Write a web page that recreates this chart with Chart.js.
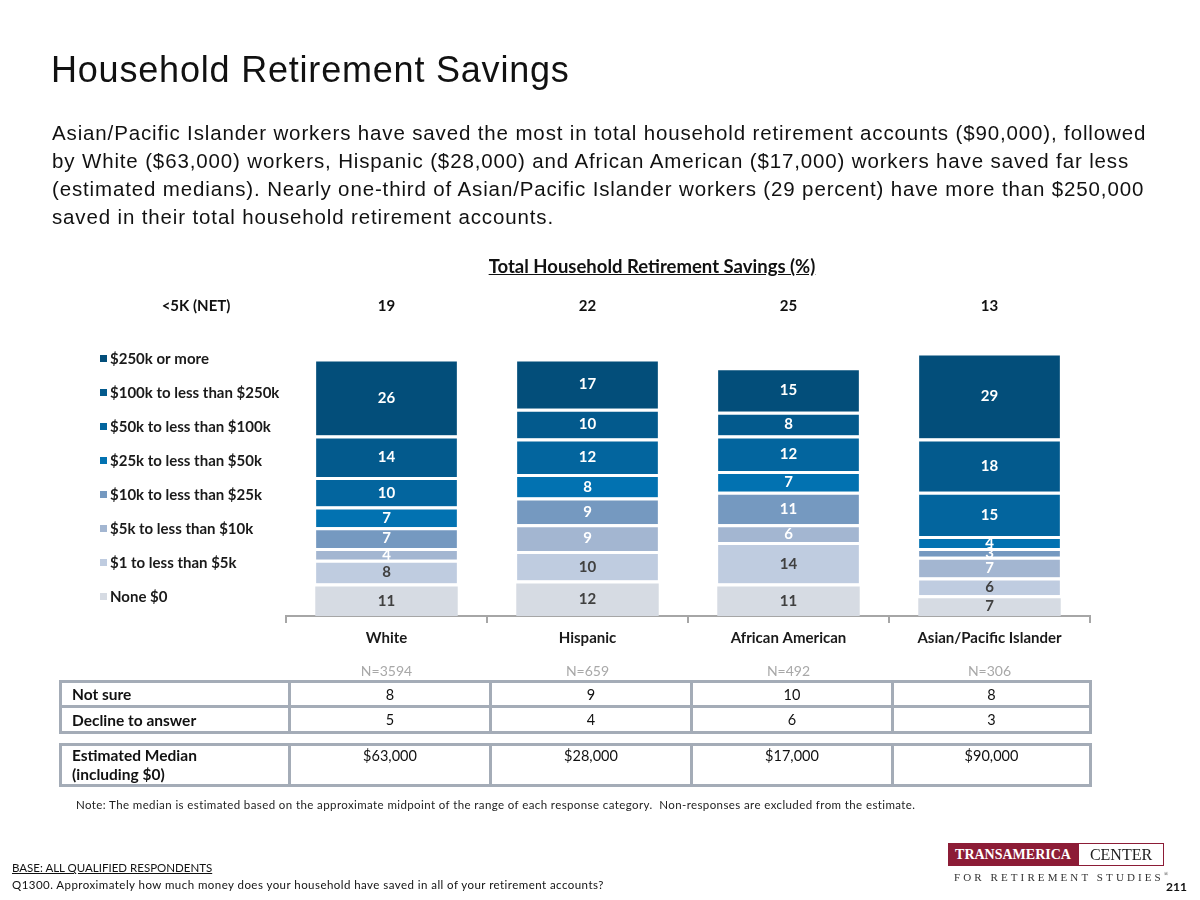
<!DOCTYPE html>
<html>
<head>
<meta charset="utf-8">
<script src="https://cdn.jsdelivr.net/npm/chart.js@4"></script>
<style>
  body { margin: 0; background: #fff; }
  #page { position: relative; width: 1200px; height: 900px; overflow: hidden; font-family: "Liberation Sans", Arial, sans-serif; color: #111; }
  #chart { position: absolute; left: 0; top: 0; }
  .abs { position: absolute; white-space: nowrap; }
  #title { left: 51px; top: 49px; font-size: 36px; letter-spacing: 0.8px; color: #111; }
  #sub { left: 52px; top: 119px; font-size: 20.5px; letter-spacing: 0.86px; line-height: 28px; color: #111; }
  #ctitle { left: 0; width: 1304px; text-align: center; top: 255px; font: bold 18.5px Lato, sans-serif; text-decoration: underline; color: #111; }
  table { position: absolute; border-collapse: collapse; font: 14.5px Lato, sans-serif; color: #111; table-layout: fixed; }
  td { border: 3px solid #a4acb7; padding: 0 6px; text-align: center; }
  td.lab { text-align: left; font-weight: bold; font-size: 15.5px; padding-left: 10px; }
  #note { left: 76px; top: 798px; font: 11.5px Lato, sans-serif; letter-spacing: 0.4px; color: #222; }
  #base { left: 12px; top: 861px; font: 11.5px Lato, sans-serif; letter-spacing: 0; color: #111; text-decoration: underline; }
  #q { left: 12px; top: 878px; font: 11.5px Lato, sans-serif; letter-spacing: 0.45px; color: #111; }
  #logo1 { left: 948px; top: 843px; width: 130px; height: 23px; background: #8c1c36; color: #fff; font: bold 14px "Liberation Serif", serif; line-height: 23px; text-align: center; }
  #logo2 { left: 1078px; top: 843px; width: 84px; height: 21px; border: 1px solid #8c1c36; color: #222; font: 16px "Liberation Serif", serif; line-height: 21px; text-align: center; }
  #logo3 { left: 954px; top: 871px; font: 11px "Liberation Serif", serif; letter-spacing: 3.1px; color: #333; }
  #pnum { left: 1166px; top: 879px; font: bold 12px Lato, sans-serif; color: #111; }
</style>
</head>
<body>
<div id="page">
  <canvas id="chart" width="1200" height="900"></canvas>
  <div id="title" class="abs">Household Retirement Savings</div>
  <div id="sub" class="abs">Asian/Pacific Islander workers have saved the most in total household retirement accounts ($90,000), followed<br>by White ($63,000) workers, Hispanic ($28,000) and African American ($17,000) workers have saved far less<br>(estimated medians). Nearly one-third of Asian/Pacific Islander workers (29 percent) have more than $250,000<br>saved in their total household retirement accounts.</div>
  <div id="ctitle" class="abs">Total Household Retirement Savings (%)</div>
  <table id="t1" style="left:59px; top:680px; width:1030px;"></table>
  <table id="t2" style="left:59px; top:743px; width:1030px;"></table>
  <div id="note" class="abs">Note: The median is estimated based on the approximate midpoint of the range of each response category.&nbsp; Non-responses are excluded from the estimate.</div>
  <div id="base" class="abs">BASE: ALL QUALIFIED RESPONDENTS</div>
  <div id="q" class="abs">Q1300. Approximately how much money does your household have saved in all of your retirement accounts?</div>
  <div id="logo1" class="abs">TRANSAMERICA</div>
  <div id="logo2" class="abs">CENTER</div>
  <div id="logo3" class="abs">FOR RETIREMENT STUDIES<sup style="font-size:6px">®</sup></div>
  <div id="pnum" class="abs">211</div>
</div>
<script>
const groups = ["White", "Hispanic", "African American", "Asian/Pacific Islander"];
const sampleSizes = ["N=3594", "N=659", "N=492", "N=306"];
const bands = ["None $0", "$1 to less than $5k", "$5k to less than $10k", "$10k to less than $25k",
  "$25k to less than $50k", "$50k to less than $100k", "$100k to less than $250k", "$250k or more"];
const bandColors = ["#d6dbe3", "#bfcce0", "#a3b6d1", "#7599c0", "#0272b1", "#03659e", "#035a8d", "#034e7a"];

const noneZero = [11, 12, 11, 7];
const oneTo5k = [8, 10, 14, 6];
const fiveTo10k = [4, 9, 6, 7];
const tenTo25k = [7, 9, 11, 3];
const twentyFiveTo50k = [7, 8, 7, 4];
const fiftyTo100k = [10, 12, 12, 15];
const hundredTo250k = [14, 10, 8, 18];
const over250k = [26, 17, 15, 29];
const under5kNet = [19, 22, 25, 13];

const notSure = [8, 9, 10, 8];
const declined = [5, 4, 6, 3];
const medians = ["$63,000", "$28,000", "$17,000", "$90,000"];

const series = [noneZero, oneTo5k, fiveTo10k, tenTo25k, twentyFiveTo50k, fiftyTo100k, hundredTo250k, over250k];

// table under the chart
const row = (label, vals, h) => `<tr style="height:${h}px"><td class="lab">${label}</td>${vals.map(v => `<td>${v}</td>`).join("")}</tr>`;
const cols = `<colgroup><col style="width:229px"><col style="width:201px"><col style="width:201px"><col style="width:201px"><col style="width:198px"></colgroup>`;
document.getElementById("t1").innerHTML = cols + row("Not sure", notSure, 25) + row("Decline to answer", declined, 26);
document.getElementById("t2").innerHTML = cols +
  `<tr style="height:40px"><td class="lab" style="vertical-align:top;line-height:19px;padding-top:0">Estimated Median<br>(including $0)</td>${medians.map(v => `<td style="vertical-align:top;padding-top:1px">${v}</td>`).join("")}</tr>`;

const overlay = {
  id: "overlay",
  afterDatasetsDraw(chart) {
    const ctx = chart.ctx;
    const x = chart.scales.x;
    ctx.save();
    ctx.textAlign = "center";
    ctx.textBaseline = "middle";
    ctx.font = "bold 15px Lato";
    chart.data.datasets.forEach((ds, i) => {
      chart.getDatasetMeta(i).data.forEach((bar, j) => {
        ctx.fillStyle = i < 2 ? "#404040" : "#ffffff";
        ctx.fillText(ds.data[j], bar.x, (bar.y + bar.base) / 2 + 1);
      });
    });

    // <5K net row
    ctx.fillStyle = "#111";
    ctx.fillText("<5K (NET)", 196, 306);
    under5kNet.forEach((v, j) => ctx.fillText(v, x.getPixelForValue(j), 306));

    // sample sizes
    ctx.font = "14px Lato";
    ctx.fillStyle = "#a8a8a8";
    sampleSizes.forEach((s, j) => ctx.fillText(s, x.getPixelForValue(j), 671));

    // legend, top item first
    ctx.textAlign = "left";
    ctx.font = "bold 15px Lato";
    const n = chart.data.datasets.length;
    for (let k = 0; k < n; k++) {
      const ds = chart.data.datasets[n - 1 - k];
      const y = 359 + k * 34.0;
      ctx.fillStyle = ds.backgroundColor;
      ctx.fillRect(100, y - 4, 7, 7);
      ctx.fillStyle = "#1a1a1a";
      ctx.fillText(ds.label, 110, y);
    }
    ctx.restore();
  }
};

new Chart(document.getElementById("chart"), {
  type: "bar",
  data: {
    labels: groups,
    datasets: series.map((d, i) => ({
      label: bands[i],
      data: d,
      backgroundColor: bandColors[i],
      borderColor: "#ffffff",
      borderWidth: i === 0 ? { top: 3, left: 0, right: 0, bottom: 0 } : { top: 3, left: 1, right: 1, bottom: 0 },
      borderSkipped: false,
      categoryPercentage: 1,
      barPercentage: 0.71,
    })),
  },
  options: {
    responsive: false,
    animation: false,
    events: [],
    layout: { padding: { left: 286, right: 110, top: 320, bottom: 247 } },
    plugins: { legend: { display: false }, tooltip: { enabled: false } },
    scales: {
      x: {
        stacked: true,
        grid: { drawOnChartArea: false, color: "#a6a6a6", lineWidth: 2, tickLength: 7 },
        border: { color: "#a6a6a6", width: 2 },
        ticks: { color: "#1a1a1a", font: { family: "Lato", size: 15, weight: "bold" }, padding: 6 },
      },
      y: { stacked: true, display: false, min: 0, max: 100 },
    },
  },
  plugins: [overlay],
});
</script>
</body>
</html>
